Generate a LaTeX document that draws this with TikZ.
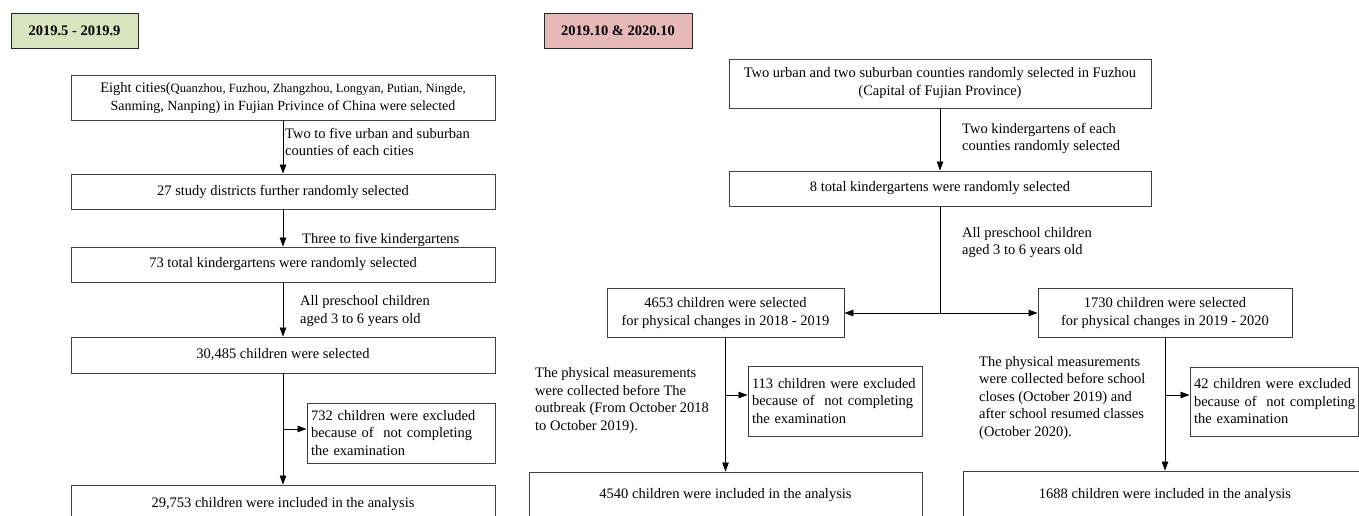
\documentclass[tikz,border=0pt]{standalone}
\usepackage{fontspec}
\setmainfont{Liberation Serif}
\usetikzlibrary{arrows.meta}
\usetikzlibrary{positioning}

\definecolor{periodgreen}{HTML}{D7E4BD}
\definecolor{periodpink}{HTML}{E6B9B8}

\newcommand{\smalltxt}[2]{{\fontsize{#1}{18}\selectfont #2}}

\begin{document}
\begin{tikzpicture}[x=1pt,y=-1pt,
  every node/.style={font=\fontsize{14.5}{18}\selectfont},
  flowbox/.style={draw=black!75,line width=0.9pt,inner sep=0pt,align=center},
  exclbox/.style={draw=black!75,line width=0.9pt,align=left,inner xsep=4pt,inner ysep=0pt,font=\fontsize{14.5}{17.5}\selectfont},
  datebox/.style={draw=black!85,line width=1pt,minimum height=35pt,font=\fontsize{14.5}{18}\selectfont\bfseries},
  note/.style={anchor=west,align=left,inner sep=0pt,font=\fontsize{14.5}{17.5}\selectfont},
  flow/.style={line width=0.8pt,-{Triangle[length=9pt,width=6.5pt]}},
  link/.style={line width=0.8pt}]
\useasboundingbox (0,0) rectangle (1359,515);
\clip (0,0) rectangle (1359,515);

% period labels
\node[datebox,fill=periodgreen,minimum width=127pt] (period1) at (74.5,30.5) {2019.5 - 2019.9};
\node[datebox,fill=periodpink,minimum width=148pt] (period2) at (618,30.5) {2019.10 \& 2020.10};

% left flow
\node[flowbox,minimum width=424pt,minimum height=45pt] (cities) at (283,97.5) {Eight cities(\smalltxt{12.6}{Quanzhou, Fuzhou, Zhangzhou, Longyan, Putian, Ningde,}\\\smalltxt{14}{Sanming, Nanping) in Fujian Privince of China were selected}};
\node[flowbox,minimum width=424pt,minimum height=35pt] (districts) at (283,191.5) {27 study districts further randomly selected};
\node[flowbox,minimum width=424pt,minimum height=35pt] (kindergartens) at (283,264.5) {73 total kindergartens were randomly selected};
\node[flowbox,minimum width=424pt,minimum height=36pt] (children) at (283,355) {30,485 children were selected};
\node[exclbox,text width=180pt,minimum height=60pt] (excl) at (401,433) {\mbox{732 children were excluded}\\\mbox{because of\ \ not completing}\\the examination};
\node[flowbox,minimum width=424pt,minimum height=38pt] (included) at (283,504) {29,753 children were included in the analysis};

\node[note] (lcounties) at (285,142) {Two to five urban and suburban\\counties of each cities};
\node[note] (lkinder) at (302,240) {Three to five kindergartens};
\node[note] (lpreschool) at (300,311) {All preschool children\\aged 3 to 6 years old};

\draw[flow] (cities) -- (districts);
\draw[flow] (districts) -- (kindergartens);
\draw[flow] (kindergartens) -- (children);
\draw[flow] (children) -- (included);
\coordinate (jexcl) at (283,429);
\draw[flow] (jexcl) -- (jexcl -| excl.west);

% right flow
\node[flowbox,minimum width=422pt,minimum height=49pt] (counties) at (940,83.5) {Two urban and two suburban counties randomly selected in Fuzhou\\(Capital of Fujian Province)};
\node[flowbox,minimum width=422pt,minimum height=35pt] (eightkg) at (940,188.5) {8 total kindergartens were randomly selected};
\node[flowbox,minimum width=237pt,minimum height=49pt] (sel1) at (725.5,313) {4653 children were selected\\for physical changes in 2018 - 2019};
\node[flowbox,minimum width=254pt,minimum height=49pt] (sel2) at (1165,313) {1730 children were selected\\for physical changes in 2019 - 2020};
\node[exclbox,text width=166pt,minimum height=70pt] (excl1) at (835,401) {\mbox{113 children were excluded}\\\mbox{because of\ \ not completing}\\the examination};
\node[exclbox,text width=160pt,minimum height=69pt] (excl2) at (1274,401.5) {\mbox{42 children were excluded}\\\mbox{because of\ \ not completing}\\the examination};
\node[flowbox,minimum width=393pt,minimum height=46pt] (incl1) at (725.5,495) {4540 children were included in the analysis};
\node[flowbox,minimum width=404pt,minimum height=48pt] (incl2) at (1165,495) {1688 children were included in the analysis};

\node[note] (lkgeach) at (962,138.5) {Two kindergartens of each\\counties randomly selected};
\node[note] (lpreschool2) at (962,242.5) {All preschool children\\aged 3 to 6 years old};
\node[note] (before1) at (535,400.5) {The physical measurements\\were collected before The\\outbreak (From October 2018\\to October 2019).};
\node[note] (before2) at (979,398) {The physical measurements\\were collected before school\\closes (October 2019) and\\after school resumed classes\\(October 2020).};

\draw[flow] (counties) -- (eightkg);
\coordinate (jsplit) at (940,313);
\draw[link] (eightkg) -- (jsplit);
\draw[flow] (jsplit) -- (sel1);
\draw[flow] (jsplit) -- (sel2);
\draw[flow] (sel1) -- (incl1);
\draw[flow] (sel2) -- (incl2);
\coordinate (jexcl1) at (725.5,395);
\coordinate (jexcl2) at (1165,395);
\draw[flow] (jexcl1) -- (jexcl1 -| excl1.west);
\draw[flow] (jexcl2) -- (jexcl2 -| excl2.west);
\end{tikzpicture}
\end{document}
